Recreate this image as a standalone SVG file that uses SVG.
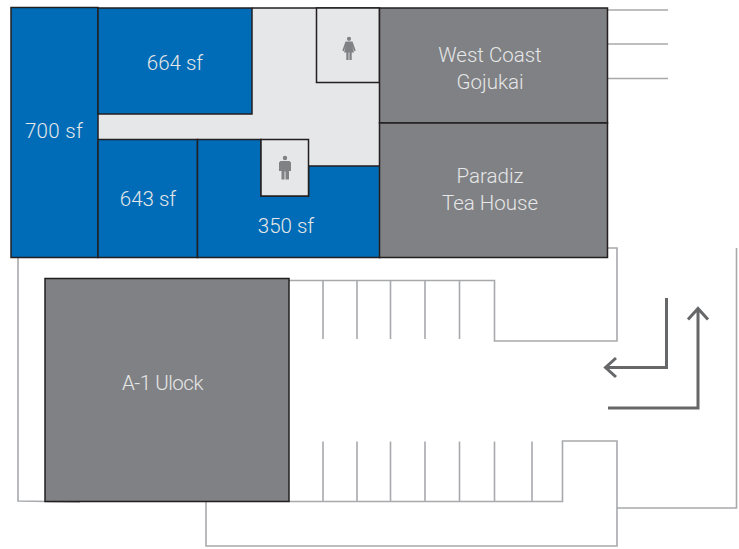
<svg xmlns="http://www.w3.org/2000/svg" width="739" height="549" viewBox="0 0 739 549">
<style>
.blue{fill:#006cb7;stroke:#231f20;stroke-width:1.5}
.grey{fill:#808184;stroke:#231f20;stroke-width:1.5}
.light{fill:#e6e7e8;stroke:#231f20;stroke-width:1.5}
.line{fill:none;stroke:#a7a9ac;stroke-width:1.6}
.arrow{fill:none;stroke:#666769;stroke-width:3}
.person{fill:#808184}
text{font-family:"Roboto","Liberation Sans",sans-serif;font-weight:300;font-size:20.5px;fill:#e6e7e8;text-anchor:middle}
</style>
<rect width="739" height="549" fill="#fff"/>
<g id="connectors">
<path class="line" d="M607 10H668M607 44H668M607 78.5H668"/>
<path class="line" d="M607 248H617V341H494.5V280.5H289"/>
<path class="line" d="M323 280.5V339M357 280.5V339M390.5 280.5V339M425 280.5V339M459.5 280.5V339"/>
<path class="line" d="M289 501.5H562.5V441H617V546H206V501.5"/>
<path class="line" d="M323 441.5V501.5M357 441.5V501.5M390.5 441.5V501.5M425 441.5V501.5M459.5 441.5V501.5M494.5 441.5V501.5M532 441.5V501.5"/>
<path class="line" d="M617 508H736.5V248"/>
<path class="line" d="M18 258V501L80 502"/>
<path class="arrow" d="M666.5 298V367.5H606M616 358L605.5 367.500L616 377"/>
<path class="arrow" d="M608 408H698V308.500M688 319.500L698 308.500L708 319.500"/>
</g>
<g id="corridor"><path d="M98 8H379.500V166H308.500V139.500H98Z" fill="#e6e7e8"/><path d="M252 8H379.500" fill="none" stroke="#231f20" stroke-width="1.500"/></g>
<g id="unit-700"><rect class="blue" x="11" y="7.500" width="87" height="250"/><text x="54" y="138" letter-spacing="0.3">700 sf</text></g>
<g id="unit-664"><rect class="blue" x="98" y="8" width="154" height="106"/><text x="175" y="70">664 sf</text></g>
<g id="unit-643"><rect class="blue" x="98" y="139.500" width="99.500" height="118"/><text x="148" y="206">643 sf</text></g>
<g id="unit-350"><path class="blue" d="M197.500 139.500H261V196H308.500V166H380V257.500H197.500Z"/><text x="286" y="233">350 sf</text></g>
<g id="restroom-men"><rect class="light" x="261" y="139.500" width="47.500" height="56.500"/><path class="person" d="M285 155.800a2.200 2.200 0 1 1 0 4.400a2.200 2.200 0 1 1 0-4.400ZM280.500 161H289.500L291 162.500V171H289V179.500H285.500V171.500H284.500V179.500H281.500V171H279V162.500Z"/></g>
<g id="restroom-women"><rect class="light" x="316.500" y="8" width="63" height="74.500"/><path class="person" d="M349 36.700a2.100 2.100 0 1 1 0 4.200a2.100 2.100 0 1 1 0-4.200ZM345.500 41.500H352.500L355.700 50.500L354.200 51.200L352.300 46.500L354 52.500H351.700V60H349.400V52.500H348.600V60H346.300V52.500H344L345.700 46.500L343.800 51.200L342.300 50.500Z"/></g>
<g id="west-coast"><rect class="grey" x="379.500" y="8" width="228" height="115"/><text x="490" y="62">West Coast</text><text x="490" y="89">Gojukai</text></g>
<g id="paradiz"><rect class="grey" x="379.500" y="123" width="228" height="134.500"/><text x="490" y="183">Paradiz</text><text x="490" y="210">Tea House</text></g>
<g id="a1-ulock"><rect class="grey" x="45" y="278.500" width="244" height="223"/><text x="162.500" y="390" letter-spacing="-0.45">A-1 Ulock</text></g>
</svg>
